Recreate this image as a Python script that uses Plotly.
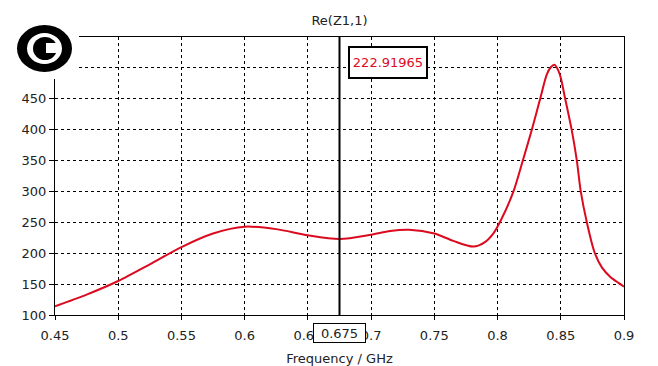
import plotly.graph_objects as go

freq_ghz = [0.45, 0.475, 0.5, 0.525, 0.55, 0.575, 0.6, 0.625, 0.65, 0.675, 0.7, 0.715,
            0.73, 0.75, 0.765, 0.781, 0.79, 0.797, 0.803, 0.8126, 0.82, 0.8271, 0.8337,
            0.8389, 0.8421, 0.845, 0.848, 0.85, 0.8535, 0.8586, 0.8627, 0.8658, 0.8706,
            0.8766, 0.8825, 0.889, 0.8956, 0.9]
re_z11 = [114, 133, 155, 182, 210, 232, 243, 239, 229, 222.9, 230, 236,
          238, 232, 220, 210.7, 218, 233, 255, 300, 350, 400, 450,
          489, 501, 505, 496, 484, 450, 400, 350, 300, 250,
          202, 177, 162, 152, 146]
marker_x = 0.675
marker_value = "222.91965"
marker_label = "0.675"
x_ticks = [0.45, 0.5, 0.55, 0.6, 0.65, 0.7, 0.75, 0.8, 0.85, 0.9]
x_ticktext = ["0.45", "0.5", "0.55", "0.6", "0.65", "0.7", "0.75", "0.8", "0.85", "0.9"]
y_ticks = [100, 150, 200, 250, 300, 350, 400, 450, 500, 550]
y_ticktext = ["100", "150", "200", "250", "300", "350", "400", "450", "", ""]

# page geometry (browser body margin offsets the figure)
OFF = 8
W, H = 658, 366
L, R, T, B = 55, 34, 37, 51
PW, PH = W - L - R, H - T - B


def px(x):
    return (x - L) / PW


def py(y):
    return (H - B - y) / PH


FONT = "DejaVu Sans"
RED = "#dc0a1e"
TXT = "#222222"

fig = go.Figure()
fig.add_trace(go.Scatter(x=freq_ghz, y=re_z11, mode="lines",
                         line=dict(color=RED, width=2, shape="spline", smoothing=0.8),
                         hoverinfo="skip", showlegend=False))

shapes = []
shapes.append(dict(type="line", xref="x", yref="paper", x0=marker_x, x1=marker_x,
                   y0=0, y1=1, line=dict(color="black", width=2), layer="above"))
shapes.append(dict(type="rect", xref="paper", yref="paper", x0=px(0), x1=px(79),
                   y0=py(79), y1=py(0), fillcolor="white", line=dict(width=0), layer="above"))
shapes.append(dict(type="circle", xref="paper", yref="paper", x0=px(17), x1=px(72),
                   y0=py(72), y1=py(25), fillcolor="black", line=dict(width=0), layer="above"))
shapes.append(dict(type="circle", xref="paper", yref="paper", x0=px(27), x1=px(62),
                   y0=py(64), y1=py(33), fillcolor="white", line=dict(width=0), layer="above"))
shapes.append(dict(type="circle", xref="paper", yref="paper", x0=px(33), x1=px(57),
                   y0=py(60), y1=py(37), fillcolor="black", line=dict(width=0), layer="above"))
shapes.append(dict(type="rect", xref="paper", yref="paper", x0=px(46), x1=px(61),
                   y0=py(53), y1=py(43), fillcolor="white", line=dict(width=0), layer="above"))

annotations = [
    dict(text=marker_value, xref="paper", yref="paper", x=px(348), y=py(62.5),
         xanchor="left", yanchor="middle", showarrow=False,
         font=dict(family=FONT, size=13, color=RED),
         bgcolor="white", bordercolor="black", borderwidth=2, borderpad=3,
         width=70, height=23),
    dict(text=marker_label, xref="x", yref="paper", x=marker_x, y=py(333),
         xanchor="center", yanchor="middle", showarrow=False,
         font=dict(family=FONT, size=13, color=TXT),
         bgcolor="white", bordercolor="black", borderwidth=1, borderpad=1,
         width=49, height=16),
]

fig.update_layout(
    width=W - OFF, height=H - OFF,
    margin=dict(l=L - OFF, r=R, t=T - OFF, b=B, pad=0, autoexpand=False),
    paper_bgcolor="white", plot_bgcolor="white",
    font=dict(family=FONT, size=13, color=TXT),
    title=dict(text="Re(Z1,1)", x=px(339.5), xref="paper", xanchor="center",
               y=1 - (20 - OFF) / (H - OFF), yanchor="middle",
               font=dict(family=FONT, size=13, color=TXT)),
    xaxis=dict(range=[0.45, 0.9], tickvals=x_ticks, ticktext=x_ticktext,
               showgrid=True, gridcolor="black", gridwidth=1, griddash="3px,3px",
               showline=True, linecolor="black", linewidth=1, mirror=True,
               ticks="outside", ticklen=4, tickcolor="black", ticklabelstandoff=4,
               zeroline=False, automargin=False,
               title=dict(text="Frequency / GHz", standoff=12,
                          font=dict(family=FONT, size=13, color=TXT))),
    yaxis=dict(range=[100, 550], tickvals=y_ticks, ticktext=y_ticktext,
               showgrid=True, gridcolor="black", gridwidth=1, griddash="3px,3px",
               showline=True, linecolor="black", linewidth=1, mirror=True,
               ticks="outside", ticklen=5, tickcolor="black",
               zeroline=False, automargin=False),
    shapes=shapes,
    annotations=annotations,
)

fig.write_html("out.html")
